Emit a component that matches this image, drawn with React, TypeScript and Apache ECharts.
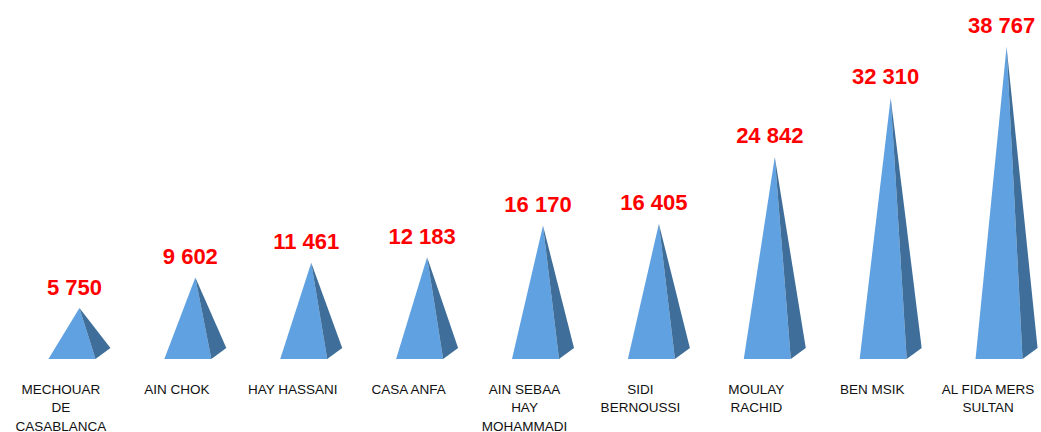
import React, { useEffect, useRef } from "react";
import * as echarts from "echarts";

const categories = [
  "MECHOUAR\nDE\nCASABLANCA",
  "AIN CHOK",
  "HAY HASSANI",
  "CASA ANFA",
  "AIN SEBAA\nHAY\nMOHAMMADI",
  "SIDI\nBERNOUSSI",
  "MOULAY\nRACHID",
  "BEN MSIK",
  "AL FIDA MERS\nSULTAN",
];
const values = [5750, 9602, 11461, 12183, 16170, 16405, 24842, 32310, 38767];
const valueLabels = ["5 750", "9 602", "11 461", "12 183", "16 170", "16 405", "24 842", "32 310", "38 767"];

export default function App() {
  const ref = useRef<HTMLDivElement>(null);
  useEffect(() => {
    if (!ref.current) return;
    const chart = echarts.init(ref.current, null, { renderer: "svg" });
    chart.setOption({
      animation: false,
      grid: { left: 3, right: 0, top: 42.6, bottom: 73, outerBoundsMode: "none", containLabel: false },
      xAxis: {
        type: "category",
        data: categories,
        axisLine: { show: false },
        axisTick: { show: false },
        axisLabel: {
          interval: 0,
          margin: 21,
          fontFamily: "Liberation Sans, Arial, sans-serif",
          fontSize: 13.5,
          lineHeight: 18.5,
          color: "#111111",
          verticalAlign: "top",
        },
      },
      yAxis: { type: "value", min: 0, max: 40000, show: false, splitLine: { show: false } },
      series: [
        {
          type: "custom",
          data: values.map((v, i) => [i, v]),
          renderItem: (params: any, api: any) => {
            const i = api.value(0);
            const v = api.value(1);
            const base = api.coord([i, 0]);
            const top = api.coord([i, v]);
            const c = base[0];
            const y0 = base[1];
            const fl = [c - 12.5, y0];
            const fr = [c + 34.5, y0];
            const br = [c + 49.5, y0 - 11];
            const apex = [c + 18.5, top[1] - 5.5];
            return {
              type: "group",
              children: [
                {
                  type: "polygon",
                  shape: { points: [fl, fr, apex] },
                  style: { fill: "#5fa1e1" },
                },
                {
                  type: "polygon",
                  shape: { points: [fr, br, apex] },
                  style: { fill: "#3e6e99" },
                },
                {
                  type: "text",
                  x: apex[0] - 5,
                  y: apex[1] - 21,
                  style: {
                    text: valueLabels[params.dataIndex],
                    fill: "#ff0000",
                    font: "bold 22px 'Liberation Sans', Arial, sans-serif",
                    align: "center",
                    verticalAlign: "middle",
                  },
                },
              ],
            };
          },
        },
      ],
    });
    return () => chart.dispose();
  }, []);
  return (
    <div style={{ position: "fixed", left: 0, top: 0, width: 1041, height: 432, overflow: "hidden", background: "#fff" }}>
      <div ref={ref} style={{ width: 1046, height: 432 }} />
    </div>
  );
}
